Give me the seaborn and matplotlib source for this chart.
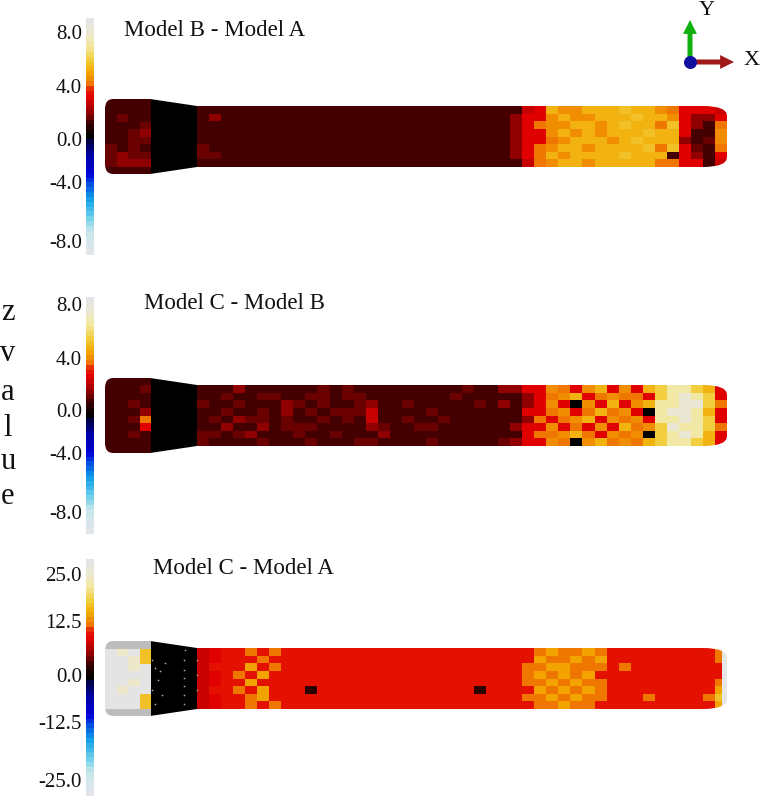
import numpy as np
import seaborn as sns
import matplotlib.pyplot as plt
from matplotlib.colors import LinearSegmentedColormap
from matplotlib.patches import PathPatch, Rectangle
from matplotlib.path import Path

W, H = 762, 809

# colour scale, position on the bar -> colour
cmap_pos = [0, 0.097, 0.148, 0.232, 0.304, 0.338, 0.422, 0.485, 0.5, 0.557, 0.612, 0.667,
            0.705, 0.722, 0.776, 0.835, 0.89, 0.945, 1]
cmap_colors = ["#e2e6ea", "#c5e6ea", "#70d0ea", "#10a0e8", "#0040e0", "#0000d8", "#0000a0", "#000040", "#000000",
               "#3a0000", "#a00000", "#e00000", "#e82000", "#ee7000", "#f2a800", "#f2d040", "#f2e8a0", "#ece8d0", "#e4e4e4"]

titles = ["Model B - Model A", "Model C - Model B", "Model C - Model A"]
limits = [9.05, 9.05, 28.6]
tick_labels = [["8.0", "4.0", "0.0", "-4.0", "-8.0"],
               ["8.0", "4.0", "0.0", "-4.0", "-8.0"],
               ["25.0", "12.5", "0.0", "-12.5", "-25.0"]]
# where the labels sit on the bars, they are not evenly spaced in the picture
tick_places = [[8.0, 3.85, -0.2, -3.47, -7.98],
               [8.5, 4.4, 0.4, -2.9, -7.4],
               [25, 13.7, 0.6, -10.8, -24.8]]

# cap + cone, 10 rows x 8 columns
cap_ab = [[1, 1, 1, 1, 0, 0, 0, 0],
          [1, 1, 1, 1, 0, 0, 0, 0],
          [1, 1.5, 1, 1, 0, 0, 0, 0],
          [1, 1, 1, 1.5, 0, 0, 0, 0],
          [1, 1, 1.5, 2, 0, 0, 0, 0],
          [1, 1, 1.5, 1.5, 0, 0, 0, 0],
          [1.5, 1, 1.5, 1, 0, 0, 0, 0],
          [1.5, 2, 1.5, 1.5, 0, 0, 0, 0],
          [1.5, 2, 2, 2, 0, 0, 0, 0],
          [1, 1, 1, 1, 0, 0, 0, 0]]
cap_bc = [[1, 1, 1, 1, 0, 0, 0, 0],
          [1, 1, 1, 1.5, 0, 0, 0, 0],
          [1, 1, 1, 1, 0, 0, 0, 0],
          [1, 1, 1.5, 1, 0, 0, 0, 0],
          [1, 1, 1, 2, 0, 0, 0, 0],
          [1, 1, 1.5, 4, 0, 0, 0, 0],
          [1, 1, 1, 3, 0, 0, 0, 0],
          [1, 1, 1.5, 1, 0, 0, 0, 0],
          [1, 1, 1, 1, 0, 0, 0, 0],
          [1, 1, 1, 1, 0, 0, 0, 0]]
nan = float("nan")
cap_ac = [[nan, nan, nan, nan, 0, 0, 0, 0],
          [28, 24, 28, 17, 0, 0, 0, 0],
          [28, 28, 24, 17, 0, 0, 0, 0],
          [28, 28, 24, 28, 0, 0, 0, 0],
          [28, 28, 28, 28, 0, 0, 0, 0],
          [28, 28, 24, 28, 0, 0, 0, 0],
          [28, 24, 28, 28, 0, 0, 0, 0],
          [28, 28, 28, 17, 0, 0, 0, 0],
          [28, 28, 28, 17, 0, 0, 0, 0],
          [nan, nan, nan, nan, 0, 0, 0, 0]]

# tube body, 8 rows x 44 columns
body_ab = [
    [1,1,1,1,1,1,1,1,1,1,1,1,1,1,1,1,1,1,1,1,1,1,1,1,1,1, 1,2.5,3,5,4.5,4.5,5,5,5,5.5,5,5,4.5,4,3,3,3,2.5],
    [1,2,1,1,1,1,1,1,1,1,1,1,1,1,1,1,1,1,1,1,1,1,1,1,1,1, 2,3,3,4.5,5,4.5,4.5,5,5,5,5.5,5,5,4.5,3,2,2,3],
    [1,1,1,1,1,1,1,1,1,1,1,1,1,1,1,1,1,1,1,1,1,1,1,1,1,1, 2,3,4,4.5,4.5,5,5,4.5,5,5.5,5,5,4,5.5,3,2,1,4],
    [1,1,1,1,1,1,1,1,1,1,1,1,1,1,1,1,1,1,1,1,1,1,1,1,1,1, 2,3,3,4.5,5,4.5,5,4.5,5,5,5,5.5,5,5,3,1,1,4.5],
    [1,1,1,1,1,1,1,1,1,1,1,1,1,1,1,1,1,1,1,1,1,1,1,1,1,1, 2,3,3,4,4.5,5,5,5,4.5,5,5.5,5,5,5,2,1,1.5,4.5],
    [1.5,1,1,1,1,1,1,1,1,1,1,1,1,1,1,1,1,1,1,1,1,1,1,1,1,1, 2,3,4,4.5,5,5,4.5,5,5,5,5,5.5,4,5.5,3,1.5,1,4],
    [1.5,1.5,1,1,1,1,1,1,1,1,1,1,1,1,1,1,1,1,1,1,1,1,1,1,1,1, 2,3,4,5,4.5,5,5,5,5,5.5,5,5,5,1,3,2,1,3],
    [1,1,1,1,1,1,1,1,1,1,1,1,1,1,1,1,1,1,1,1,1,1,1,1,1,1, 1,2.5,4,4.5,5,5,4.5,5,5,5,5,5,4,4,3,3,1,2.5]]
body_bc = [
    [1,1,1,2,1,1,1,1,1,1,1.5,1,1.5,1,1,1,1,1,1,1,1,1,1.5,1,1,2, 2,3,3,4.5,4,3,4.5,5,3,4.5,3,5,6,7,7,6,5,3],
    [1,1,1.5,1,1,1.5,1.5,1,1,1.5,1.5,1,1.5,1.5,1,1,1,1,1,1,1,1.5,1,1,1,1, 1,2,3,4,4.5,5,3,4,4.5,4,4,3,6,7,8,7,6,3],
    [1.5,1,1,1.5,1,1,1,2,1.5,1,1.5,1,1,1.5,2,1,1,1.5,1,1,1,1,1,1.5,1,2, 1,2,3,4.5,3,0,4.5,3,5,3,4.5,5,7,7,8,8,6,4],
    [1,1,1.5,1,1,1.5,1,2,1,1.5,1,1.5,1.5,1.5,2.5,1,1,1,1,1.5,1,1,1,1,1,1, 1,3,3,4,4.5,3,4,5,4,4.5,3,0,7,8,8,7,5,3],
    [1,1.5,1,2,1.5,1.5,1,1.5,1,1,1.5,1,1.5,1,2.5,1,1,1.5,1,1,1.5,1,1,1,1,1, 1,2,4,3,4,4.5,5,3,4.5,4,4.5,3,7,7,8,7,6,3],
    [1,1,2,1,1,2,1,1.5,1.5,1.5,1,1,1,1,2,1.5,1,1,1.5,1.5,1,1,1,1,1,1, 2,3,3,4.5,3,4,3,4.5,3,5,4,4.5,6,8,7,7,6,4],
    [1.5,1.5,1,1.5,2,1,1,1,1.5,1,1,1.5,1,1,1,2,1,1,1,1,1,1,1,1,1,1, 1,3,4,4,4.5,5,4,3,4.5,4,4.5,0,6,7,8,7,5,3],
    [1.5,1,1,1,1,1.5,1,1,1,1.5,1,1,1,1.5,1.5,1,1,1,1,1.5,1,1,1,1,1,1.5, 2,3,3,4.5,4,0,4.5,5,4,4.5,4,5,6,7,7,6,5,3]]
body_ac = [
    [8,9,10,10,13,10,13,10,10,10,10,10,11,10,10,10,10,10,10,10,10,11,10,10,10,10, 10,10,13,15,13,13,15,13,10,10,10,11,10,10,10,10,10,13],
    [8,9,10,10,10,13,10,10,11,10,10,10,10,10,10,10,11,10,10,10,10,10,10,10,11,10, 10,11,15,13,13,15,13,15,11,10,10,10,10,11,10,10,10,13],
    [8,10,10,10,15,10,13,10,10,10,11,10,10,11,10,10,10,10,10,11,10,10,10,10,10,10, 10,13,13,15,15,13,13,13,10,13,10,10,10,10,11,10,10,10],
    [8,9,10,13,10,15,10,10,10,10,10,10,10,10,10,11,10,10,10,10,10,10,10,10,10,10, 10,13,15,13,15,13,15,11,10,10,10,10,11,10,10,10,10,10],
    [8,9,10,10,15,10,10,11,10,10,10,10,10,10,10,10,10,11,10,10,10,10,10,10,10,10, 10,13,13,15,13,15,13,13,10,10,11,10,10,10,10,10,10,13],
    [8,10,10,13,10,15,10,10,10,2,10,10,11,10,10,10,10,10,10,10,10,10,10,2,10,10, 10,11,15,13,15,13,15,13,11,10,10,10,10,10,10,11,10,15],
    [8,9,10,10,13,15,10,10,10,10,10,10,10,10,10,11,10,10,10,10,10,10,11,10,10,10, 10,13,13,15,13,15,13,13,10,10,10,13,10,10,11,10,13,17],
    [8,9,10,10,13,10,13,10,10,10,11,10,10,10,10,10,10,10,10,11,10,10,10,10,10,10, 10,10,13,13,15,13,13,10,10,10,10,10,10,10,10,10,10,15]]

caps = [cap_ab, cap_bc, cap_ac]
bodies = [body_ab, body_bc, body_ac]

# small specks on the cone of the last panel
speck_x = [152, 155, 160, 165, 158, 152, 162, 155, 185, 184, 184, 184, 184, 184, 184, 197, 197, 197]
speck_y = [660, 668, 671, 663, 680, 690, 695, 704, 650, 660, 670, 678, 686, 695, 704, 660, 675, 690]

# layout in pixels
body_tops = [106, 385, 648]
bar_tops = [18, 297, 559]
title_pos = [(124, 30), (144, 303), (153, 569)]
z_letters = ["z", "v", "a", "l", "u", "e"]
z_y = [312, 353, 392, 428, 461, 496]

sns.set_theme(style="white")
plt.rcParams["font.family"] = ["Liberation Serif", "DejaVu Serif"]

cmap = LinearSegmentedColormap.from_list("zvalue", list(zip(cmap_pos, cmap_colors)), N=49)

fig = plt.figure(figsize=(W / 100, H / 100), dpi=100)


def px_axes(x0, y0, x1, y1):
    return fig.add_axes([x0 / W, 1 - y1 / H, (x1 - x0) / W, (y1 - y0) / H])


pix = px_axes(0, 0, W, H)
pix.set_xlim(0, W)
pix.set_ylim(H, 0)
pix.set_axis_off()
pix.set_zorder(5)


def tube_mask(top):
    # white frame with the tube outline cut out, y measured from the top of the body
    frame = [(100, -10), (100, 71), (731, 71), (731, -10), (100, -10)]
    frame_codes = [Path.MOVETO, Path.LINETO, Path.LINETO, Path.LINETO, Path.CLOSEPOLY]
    outline = [(113, -7), (150, -7), (197, 0), (703, 0), (727, 0), (727, 10), (727, 51), (727, 61), (703, 61),
               (197, 61), (150, 68), (113, 68), (105, 68), (105, 58), (105, 3), (105, -7), (113, -7)]
    codes = [Path.MOVETO, Path.LINETO, Path.LINETO, Path.LINETO, Path.CURVE3, Path.CURVE3, Path.LINETO, Path.CURVE3,
             Path.CURVE3, Path.LINETO, Path.LINETO, Path.LINETO, Path.CURVE3, Path.CURVE3, Path.LINETO, Path.CURVE3,
             Path.CURVE3]
    return Path(np.array(frame + outline, dtype=float) + [0, top], frame_codes + codes)


for i in range(3):
    top = body_tops[i]

    bar_ax = px_axes(86, bar_tops[i], 94, bar_tops[i] + 237)
    cap_ax = px_axes(105, top - 7, 197, top + 68)
    body_ax = px_axes(197, top, 727, top + 61)

    sns.heatmap(np.array(caps[i], dtype=float), ax=cap_ax, cmap=cmap, vmin=-limits[i], vmax=limits[i],
                cbar=False, xticklabels=False, yticklabels=False)
    sns.heatmap(np.array(bodies[i], dtype=float), ax=body_ax, cmap=cmap, vmin=-limits[i], vmax=limits[i],
                cbar_ax=bar_ax, xticklabels=False, yticklabels=False)
    if i == 2:
        # grey rim of the white cap, pale strip on the tip
        cap_ax.set_facecolor("#bdbdbd")
        pix.add_patch(Rectangle((722, top), 6, 61, facecolor="#e6e6e6", edgecolor="none"))

    pix.add_patch(PathPatch(tube_mask(top), facecolor="white", edgecolor="none"))

    cbar = body_ax.collections[0].colorbar
    cbar.set_ticks(tick_places[i], labels=tick_labels[i])
    cbar.outline.set_visible(False)
    bar_ax.yaxis.set_ticks_position("left")
    bar_ax.tick_params(length=0, labelsize=15, pad=3, colors="#111111")

    pix.text(title_pos[i][0], title_pos[i][1], titles[i], fontsize=16.5, va="center", color="#111111")

pix.scatter(speck_x, speck_y, s=1.5, color="#aaaaaa", linewidths=0)

for letter, y in zip(z_letters, z_y):
    pix.text(8, y, letter, fontsize=22, ha="center", va="center", color="#111111")

# orientation triad
pix.annotate("", xy=(690, 20), xytext=(690, 62),
             arrowprops=dict(facecolor="#10b010", edgecolor="none", width=3.6, headwidth=10, headlength=10, shrink=0))
pix.annotate("", xy=(734, 62), xytext=(690, 62),
             arrowprops=dict(facecolor="#a01818", edgecolor="none", width=3.6, headwidth=10, headlength=10, shrink=0))
pix.scatter([690], [62], s=88, color="#1010a0", linewidths=0, zorder=4)
pix.text(707, 10, "Y", fontsize=16, ha="center", va="center", color="#111111")
pix.text(752, 60, "X", fontsize=16, ha="center", va="center", color="#111111")

fig.savefig("out.png", dpi=100)
